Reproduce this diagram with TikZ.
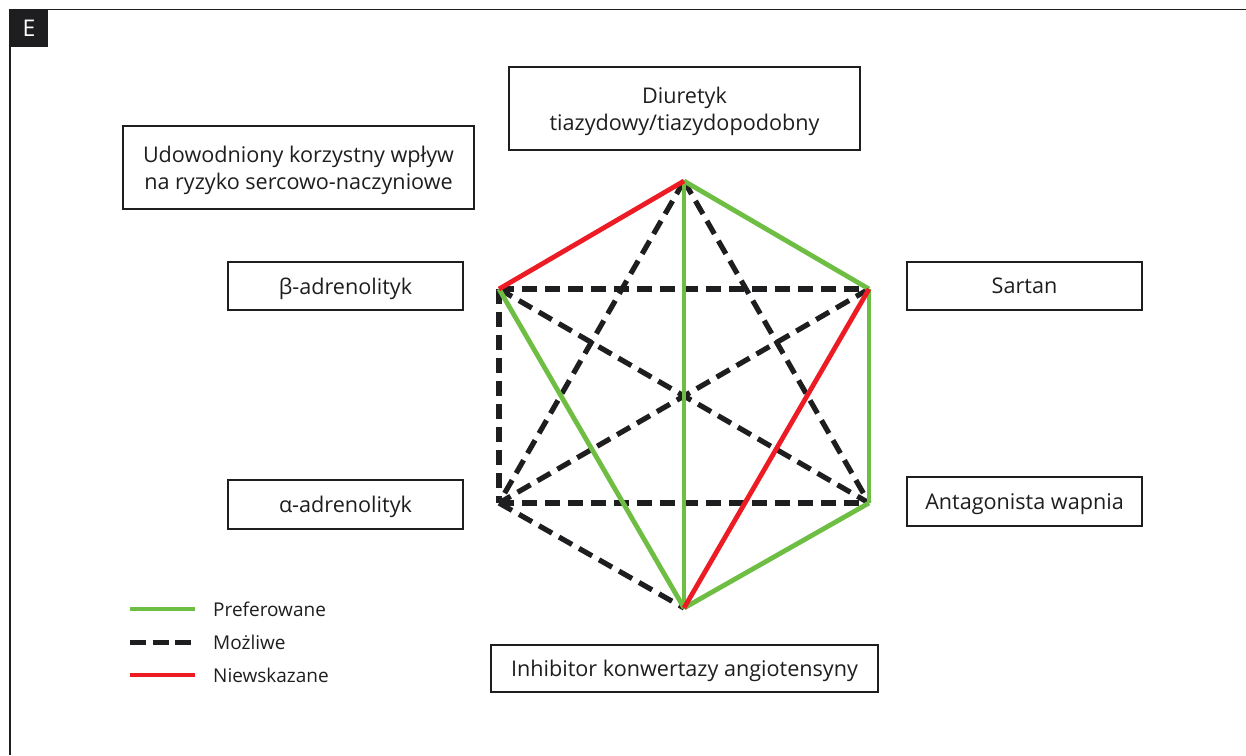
\documentclass[tikz,border=0pt]{standalone}
\usepackage{fontspec}
\setmainfont{Open Sans}
\definecolor{pgreen}{RGB}{110,190,68}
\definecolor{pred}{RGB}{237,28,36}
\definecolor{pblack}{RGB}{30,30,32}
\begin{document}
\begin{tikzpicture}[x=1pt,y=-1pt,
  lbl/.style={draw=pblack,line width=1.1pt,inner sep=0pt,align=center,font=\fontsize{21.6}{27}\selectfont,text=pblack,text depth=0pt},
  pref/.style={draw=pgreen,line width=4.8pt},
  poss/.style={draw=pblack,line width=5.2pt,dash pattern=on 15pt off 8pt},
  nies/.style={draw=pred,line width=4.8pt},
  leg/.style={anchor=west,font=\fontsize{19}{22}\selectfont,text=pblack,inner sep=0pt}]
\useasboundingbox (0,0) rectangle (1246,755);
% frame
\draw[pblack,line width=1.5pt] (10,755) -- (10,9.5) -- (1246,9.5);
\fill[pblack] (10,9.5) rectangle (48,47);
\node[text=white,font=\fontsize{23}{24}\selectfont] (E) at (29,28.5) {E};
% boxes
\node[lbl,minimum width=351pt,minimum height=83pt] (diu) at (684.5,108.5) {Diuretyk\\tiazydowy/tiazydopodobny};
\node[lbl,minimum width=351pt,minimum height=83pt] (udo) at (298.5,167.5) {Udowodniony korzystny wpływ\\na ryzyko sercowo-naczyniowe};
\node[lbl,minimum width=235pt,minimum height=48pt] (beta) at (345.5,286) {β-adrenolityk};
\node[lbl,minimum width=235pt,minimum height=48pt] (sart) at (1024.5,286) {Sartan};
\node[lbl,minimum width=235pt,minimum height=49pt] (alfa) at (345.5,504.5) {α-adrenolityk};
\node[lbl,minimum width=235pt,minimum height=49pt] (anta) at (1024.5,501.5) {Antagonista wapnia};
\node[lbl,minimum width=387pt,minimum height=47pt] (ace) at (684.5,668.5) {Inhibitor konwertazy angiotensyny};
% hexagon vertices
\coordinate (T) at (684,181);
\coordinate (UL) at (499,289);
\coordinate (UR) at (869,289);
\coordinate (LL) at (499,503);
\coordinate (LR) at (869,503);
\coordinate (B) at (684,608);
% dashed
\draw[poss] (T) -- (LL);
\draw[poss] (T) -- (LR);
\draw[poss] (UL) -- (UR);
\draw[poss] (UL) -- (LL);
\draw[poss] (UL) -- (LR);
\draw[poss] (UR) -- (LL);
\draw[poss] (LL) -- (LR);
\draw[poss] (LL) -- (B);
% green
\draw[pref] (T) -- (UR);
\draw[pref] (T) -- (B);
\draw[pref] (UL) -- (B);
\draw[pref] (UR) -- (LR);
\draw[pref] (LR) -- (B);
% red
\draw[nies] (T) -- (UL);
\draw[nies] (UR) -- (B);
% legend
\coordinate (g1) at (130,609); \coordinate (g2) at (195,609);
\coordinate (d1) at (130,642); \coordinate (d2) at (195,642);
\coordinate (r1) at (130,675); \coordinate (r2) at (195,675);
\draw[pref] (g1) -- (g2);
\draw[draw=pblack,line width=5pt,dash pattern=on 16pt off 6.5pt] (d1) -- (d2);
\draw[nies] (r1) -- (r2);
\node[leg] (lp) at (213,609) {Preferowane};
\node[leg] (lm) at (213,642) {Możliwe};
\node[leg] (ln) at (213,675) {Niewskazane};
\end{tikzpicture}
\end{document}
